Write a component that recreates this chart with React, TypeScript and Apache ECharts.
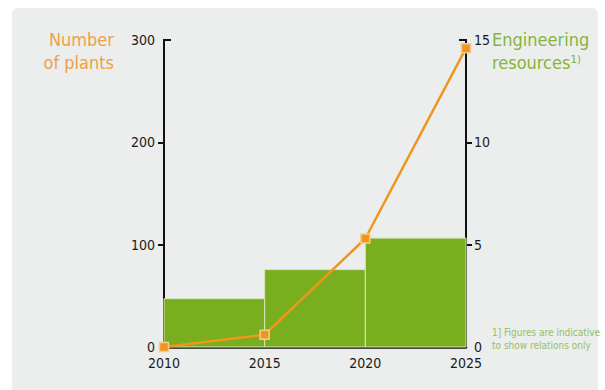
import React, { useEffect, useRef } from "react";
import * as echarts from "echarts";

// Period boundaries (years) and tick labels
const years = [2010, 2015, 2020, 2025];
const plantTicks = [0, 100, 200, 300];
const resourceTicks = [0, 5, 10, 15];

// Number of plants (orange line, left axis)
const plants = [0, 12, 106, 292];

// Engineering resources per 5-year period (green bars, right axis)
const periodStart = [2010, 2015, 2020];
const periodEnd = [2015, 2020, 2025];
const resources = [2.36, 3.78, 5.32];

const FONT = "'DejaVu Sans Condensed', 'Liberation Sans Narrow', sans-serif";
const ORANGE = "#f0961e";
const GREEN = "#79ae1f";
const TITLE_ORANGE = "#f0a042";
const TITLE_GREEN = "#86b43e";

export default function App() {
  const ref = useRef<HTMLDivElement>(null);

  useEffect(() => {
    document.body.style.margin = "0";
    const chart = echarts.init(ref.current!, null, { renderer: "svg" });

    const barData = resources.map((v, i) => [periodStart[i], periodEnd[i], v]);
    const lineData = years.map((y, i) => [y, plants[i]]);

    chart.setOption({
      animation: false,
      backgroundColor: "#ffffff",
      grid: { left: 164, right: 139, top: 40, bottom: 43 },
      xAxis: {
        type: "value",
        min: years[0],
        max: years[years.length - 1],
        interval: 5,
        axisLine: { show: true, lineStyle: { color: "#111", width: 2.5 } },
        axisTick: { show: false },
        splitLine: { show: false },
        axisLabel: {
          fontFamily: FONT,
          fontSize: 14,
          color: "#1a1a1a",
          margin: 9,
          formatter: (v: number) => String(v),
        },
      },
      yAxis: [
        {
          type: "value",
          min: plantTicks[0],
          max: plantTicks[plantTicks.length - 1],
          interval: 100,
          position: "left",
          axisLine: { show: true, lineStyle: { color: "#111", width: 2 } },
          axisTick: {
            show: true,
            length: 6,
            customValues: plantTicks.slice(1, -1),
            lineStyle: { color: "#111", width: 2 },
          },
          splitLine: { show: false },
          axisLabel: { fontFamily: FONT, fontSize: 14, color: "#1a1a1a", margin: 9 },
        },
        {
          type: "value",
          min: resourceTicks[0],
          max: resourceTicks[resourceTicks.length - 1],
          interval: 5,
          position: "right",
          axisLine: { show: true, lineStyle: { color: "#111", width: 2 } },
          axisTick: {
            show: true,
            length: 6,
            customValues: resourceTicks.slice(1, -1),
            lineStyle: { color: "#111", width: 2 },
          },
          splitLine: { show: false },
          axisLabel: { fontFamily: FONT, fontSize: 14, color: "#1a1a1a", margin: 8 },
        },
      ],
      graphic: [
        {
          id: "panel",
          type: "rect",
          z: -10,
          shape: { x: 12, y: 8, width: 586, height: 392, r: 6 },
          style: { fill: "#eceeed" },
        },
        {
          id: "titleL",
          type: "text",
          x: 114,
          y: 28,
          style: {
            text: "Number\nof plants",
            fill: TITLE_ORANGE,
            font: `18px ${FONT}`,
            align: "right",
            lineHeight: 23,
          },
        },
        {
          id: "titleR",
          type: "text",
          x: 492,
          y: 28,
          style: {
            text: "Engineering\nresources¹⁾",
            fill: TITLE_GREEN,
            font: `18px ${FONT}`,
            align: "left",
            lineHeight: 23,
          },
        },
        {
          id: "note",
          type: "text",
          x: 492,
          y: 326,
          style: {
            text: "1] Figures are indicative\nto show relations only",
            fill: "#94c064",
            font: `10px ${FONT}`,
            align: "left",
            lineHeight: 13,
          },
        },
      ],
      series: [
        {
          type: "custom",
          yAxisIndex: 1,
          z: 1,
          data: barData,
          encode: { x: [0, 1], y: 2 },
          renderItem: (params: any, api: any) => {
            const p0 = api.coord([api.value(0), api.value(2)]);
            const p1 = api.coord([api.value(1), 0]);
            return {
              type: "rect",
              shape: { x: p0[0], y: p0[1], width: p1[0] - p0[0], height: p1[1] - p0[1] },
              style: { fill: GREEN, stroke: "#d6e6b6", lineWidth: 1 },
            };
          },
        },
        {
          type: "line",
          yAxisIndex: 0,
          z: 5,
          data: lineData,
          symbol: "rect",
          symbolSize: 9,
          lineStyle: { color: ORANGE, width: 2.5 },
          itemStyle: { color: ORANGE, borderColor: "#f9c98c", borderWidth: 1.5 },
        },
      ],
    });

    // Top caps of the two vertical axes
    const topL = chart.convertToPixel({ gridIndex: 0 }, [years[0], plantTicks[plantTicks.length - 1]]);
    const topR = chart.convertToPixel({ gridIndex: 0 }, [years[years.length - 1], plantTicks[plantTicks.length - 1]]);
    chart.setOption({
      graphic: [
        {
          id: "capL",
          type: "line",
          shape: { x1: topL[0] - 1, y1: topL[1], x2: topL[0] + 7, y2: topL[1] },
          style: { stroke: "#111", lineWidth: 2 },
        },
        {
          id: "capR",
          type: "line",
          shape: { x1: topR[0] - 7, y1: topR[1], x2: topR[0] + 1, y2: topR[1] },
          style: { stroke: "#111", lineWidth: 2 },
        },
      ],
    });

    return () => chart.dispose();
  }, []);

  return <div ref={ref} style={{ width: 605, height: 390 }} />;
}
